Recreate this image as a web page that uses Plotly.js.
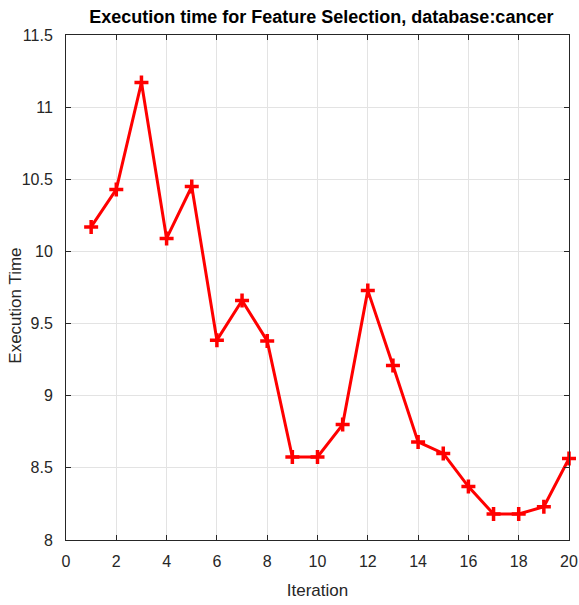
<!DOCTYPE html>
<html>
<head>
<meta charset="utf-8">
<script src="https://cdn.plot.ly/plotly-3.0.1.min.js"></script>
<style>html,body{margin:0;padding:0;background:#fff;}#chart{width:579px;height:605px;}</style>
</head>
<body>
<div id="chart"></div>
<script>
const iterations = [1,2,3,4,5,6,7,8,9,10,11,12,13,14,15,16,17,18,19,20];
const execTime = [10.17,10.43,11.17,10.09,10.45,9.385,9.66,9.38,8.575,8.575,8.80,9.73,9.21,8.68,8.60,8.37,8.18,8.18,8.23,8.565];
const xTicks = [0,2,4,6,8,10,12,14,16,18,20];
const yTicks = [8,8.5,9,9.5,10,10.5,11,11.5];
const yTickText = ['8','8.5','9','9.5','10','10.5','11','11.5'];

const FONT = '"Liberation Sans", Arial, sans-serif';
const trace = {
  x: iterations, y: execTime, type: 'scatter', mode: 'lines+markers',
  line: {color: '#ff0000', width: 3},
  marker: {symbol: 'cross-thin', size: 10, line: {color: '#ff0000', width: 3.5}, color: '#ff0000'},
  cliponaxis: false, hoverinfo: 'none'
};
const axisCommon = {
  showline: true, mirror: 'ticks', linecolor: '#262626', linewidth: 1,
  ticks: 'inside', ticklen: 5, tickcolor: '#262626',
  showgrid: true, gridcolor: '#e3e3e3', gridwidth: 1, zeroline: false,
  ticklabeloverflow: 'allow',
  tickfont: {family: FONT, size: 16, color: '#262626'}
};
const layout = {
  width: 579, height: 605,
  margin: {l: 66, r: 10, t: 35, b: 65},
  paper_bgcolor: '#ffffff', plot_bgcolor: '#ffffff',
  showlegend: false,
  title: {text: '<b>Execution time for Feature Selection, database:cancer</b>',
          font: {family: FONT, size: 18, color: '#000'},
          x: 0.555, xanchor: 'center', y: 0.972, yanchor: 'middle'},
  xaxis: Object.assign({}, axisCommon, {
    range: [0, 20], tickvals: xTicks, ticklabelstandoff: 7,
    title: {text: 'Iteration', font: {family: FONT, size: 17, color: '#262626'}, standoff: 14}
  }),
  yaxis: Object.assign({}, axisCommon, {
    range: [8, 11.5], tickvals: yTicks, ticktext: yTickText, ticklabelstandoff: 9
  }),
  annotations: [{
    text: 'Execution Time', textangle: -90, showarrow: false,
    xref: 'paper', yref: 'paper', x: -0.1004, y: 0.465, xanchor: 'center', yanchor: 'middle',
    font: {family: FONT, size: 17, color: '#262626'}
  }]
};
Plotly.newPlot('chart', [trace], layout, {displayModeBar: false, staticPlot: true});
</script>
</body>
</html>
